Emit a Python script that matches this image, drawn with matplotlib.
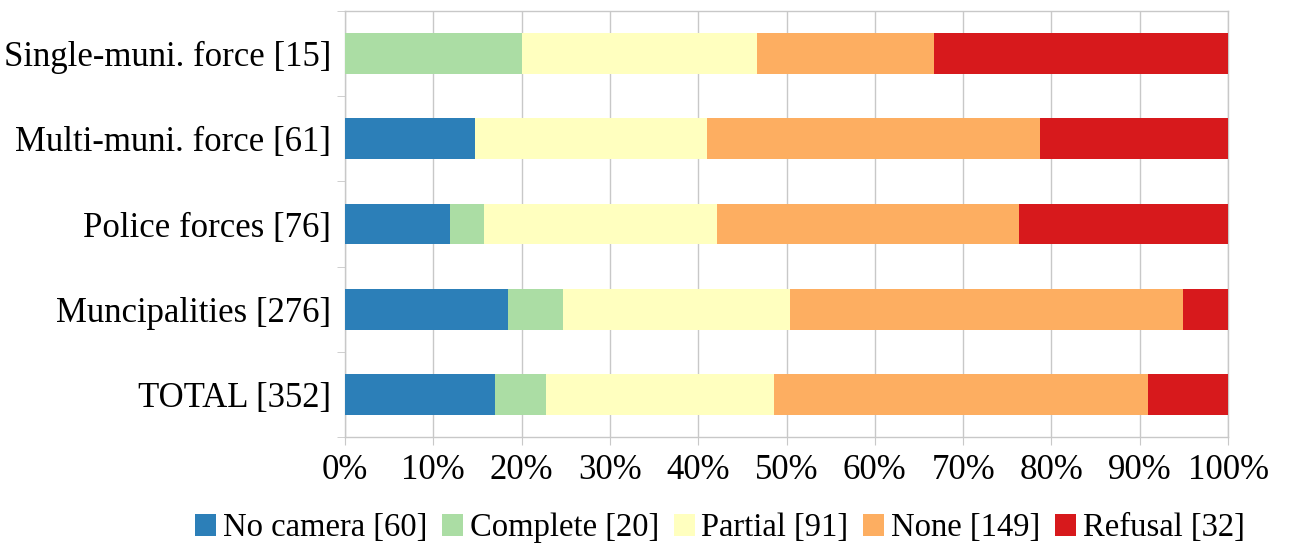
import numpy as np
import matplotlib.pyplot as plt
from matplotlib.patches import Patch

# Response counts per group of respondents (bottom to top on the chart)
groups = ["TOTAL [352]", "Muncipalities [276]", "Police forces [76]",
          "Multi-muni. force [61]", "Single-muni. force [15]"]
no_camera = [60, 51, 9, 9, 0]
complete = [20, 17, 3, 0, 3]
partial = [91, 71, 20, 16, 4]
none_ = [149, 123, 26, 23, 3]
refusal = [32, 14, 18, 13, 5]

series_names = ["No camera [60]", "Complete [20]", "Partial [91]",
                "None [149]", "Refusal [32]"]
colors = ["#2c7fb8", "#abdda4", "#ffffbf", "#fdae61", "#d7191c"]

plt.rcParams["font.family"] = ["Liberation Serif", "DejaVu Serif"]
FS = 25

counts = np.array([no_camera, complete, partial, none_, refusal], dtype=float)
shares = counts / counts.sum(axis=0)

fig = plt.figure(figsize=(12.9, 5.43), dpi=100)
ax = fig.add_axes([0.2674, 0.1952, 0.6846, 0.7845])

y = np.arange(len(groups))
left = np.zeros(len(groups))
for share, color in zip(shares, colors):
    ax.barh(y, share, left=left, height=0.48, color=color, zorder=3)
    left += share

ax.set_xlim(0, 1)
ax.set_ylim(-0.5, len(groups) - 0.5)
ax.set_xticks(np.linspace(0, 1, 11))
ax.set_xticklabels([f"{p}%" for p in range(0, 101, 10)])
ax.set_yticks(y)
ax.set_yticklabels(groups)
ax.set_yticks(np.arange(-0.5, len(groups), 1.0), minor=True)

grid_col = "#c8c8c8"
ax.grid(axis="x", color=grid_col, linewidth=1.0, zorder=0)
for s in ax.spines.values():
    s.set_color(grid_col)
    s.set_linewidth(1.0)

ax.tick_params(axis="y", which="major", length=0, labelsize=FS, pad=10)
ax.tick_params(axis="y", which="minor", length=6, color=grid_col)
ax.tick_params(axis="x", length=6, color=grid_col, labelsize=FS, pad=6)

handles = [Patch(facecolor=c, edgecolor="none") for c in colors]
fig.legend(handles, series_names, loc="lower center",
           bbox_to_anchor=(0.558, -0.055), ncol=5, frameon=False,
           fontsize=23.5, handlelength=0.65, handleheight=0.65,
           handletextpad=0.2, columnspacing=0.45)

fig.savefig("out.png", dpi=100)
